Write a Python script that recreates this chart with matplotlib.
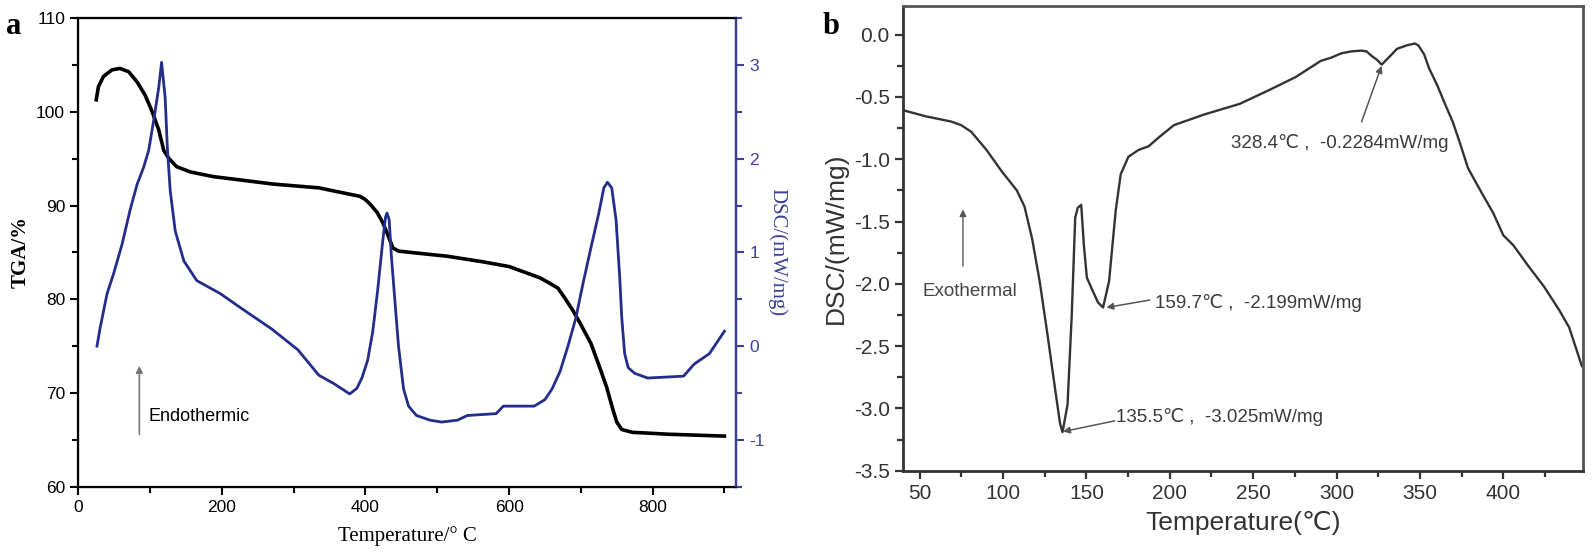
import numpy as np
import matplotlib
matplotlib.use("Agg")
import matplotlib.pyplot as plt
from matplotlib.ticker import MultipleLocator

plt.rcParams["axes.unicode_minus"] = False

# ---- panel a data: TGA (left axis) and DSC (right axis) ----
tga_temp = [25, 28, 35, 47, 58, 70, 82, 93, 102, 112, 119, 126, 137, 156, 188,
            226, 272, 335, 392, 399, 406, 416, 424, 431, 438, 446, 464, 514,
            564, 600, 643, 657, 668, 678, 689, 700, 714, 725, 736, 744, 750,
            757, 772, 786, 822, 900]
tga_val = [101.3, 102.7, 103.8, 104.5, 104.65, 104.3, 103.2, 101.8, 100.2,
           98.1, 95.9, 95.05, 94.16, 93.6, 93.1, 92.74, 92.3, 91.9, 91.0,
           90.7, 90.2, 89.3, 88.2, 86.9, 85.5, 85.15, 85.0, 84.6, 84.0, 83.5,
           82.3, 81.7, 81.2, 80.1, 78.8, 77.3, 75.3, 73.0, 70.6, 68.4, 66.9,
           66.1, 65.8, 65.75, 65.6, 65.4]

dsc_a_temp = [26, 30, 40, 49, 61, 72, 82, 91, 98, 105, 112, 116, 121, 124,
              128, 135, 147, 165, 198, 226, 270, 306, 335, 356, 367, 378, 388,
              395, 403, 410, 417, 424, 428, 430, 433, 436, 441, 446, 453, 460,
              471, 490, 506, 528, 542, 582, 592, 635, 650, 660, 671, 682, 693,
              703, 714, 725, 732, 737, 743, 749, 754, 757, 761, 766, 775, 793,
              843, 858, 879, 900]
dsc_a_val = [0.0, 0.18, 0.56, 0.77, 1.09, 1.45, 1.73, 1.91, 2.09, 2.41, 2.76,
             3.03, 2.65, 2.12, 1.66, 1.23, 0.91, 0.70, 0.56, 0.41, 0.18, -0.04,
             -0.31, -0.40, -0.455, -0.51, -0.45, -0.34, -0.15, 0.15, 0.60,
             1.12, 1.38, 1.42, 1.35, 0.97, 0.48, 0.0, -0.455, -0.64, -0.74,
             -0.79, -0.81, -0.79, -0.74, -0.72, -0.64, -0.64, -0.57, -0.455,
             -0.27, 0.0, 0.30, 0.67, 1.05, 1.42, 1.69, 1.75, 1.69, 1.35, 0.75,
             0.30, -0.08, -0.23, -0.29, -0.34, -0.32, -0.19, -0.08, 0.16]

# ---- panel b data: DSC curve ----
dsc_b_temp = [40, 53.6, 68.8, 74.9, 81, 90.1, 99.2, 108.3, 112.9, 117.5, 122,
              126.6, 131.1, 134.2, 135.7, 138.7, 141.2, 143.3, 144.8, 146.9,
              148.5, 150.3, 153.9, 157, 160, 163.6, 167.6, 170.6, 175.2, 181.3,
              187.3, 193.4, 202.5, 220.8, 242, 260.3, 275.5, 290.6, 296.7,
              302.8, 308.9, 315, 318, 321, 324.1, 327.1, 333.2, 336.2, 342.3,
              346.9, 349, 352.5, 355.5, 360.5, 365, 369.7, 374, 378.8, 383.3,
              387.9, 393.9, 400, 406, 415.2, 424.3, 433.5, 439.5, 447.1]
dsc_b_val = [-0.606, -0.655, -0.697, -0.726, -0.78, -0.925, -1.096, -1.25,
             -1.38, -1.64, -1.98, -2.40, -2.83, -3.12, -3.19, -2.97, -2.26,
             -1.47, -1.39, -1.366, -1.69, -1.95, -2.06, -2.15, -2.19, -1.98,
             -1.41, -1.12, -0.98, -0.925, -0.896, -0.825, -0.726, -0.64,
             -0.555, -0.44, -0.34, -0.21, -0.185, -0.15, -0.134, -0.128,
             -0.134, -0.17, -0.2, -0.24, -0.157, -0.114, -0.085, -0.071,
             -0.085, -0.157, -0.27, -0.41, -0.555, -0.70, -0.87, -1.07, -1.18,
             -1.29, -1.43, -1.61, -1.69, -1.86, -2.02, -2.21, -2.35, -2.66]

peak_labels = ["328.4\u2103 ,  -0.2284mW/mg", "159.7\u2103 ,  -2.199mW/mg",
               "135.5\u2103 ,  -3.025mW/mg"]
peak_xy = [(327, -0.25), (162, -2.19), (136, -3.186)]
peak_tail_xy = [(315, -0.70), (188, -2.13), (167, -3.10)]
peak_text_xy = [(237, -0.87), (191, -2.15), (168, -3.066)]

navy = "#232d8c"
axblue = "#3b4199"
sans = ["Liberation Sans", "DejaVu Sans"]
serif = ["Liberation Serif", "DejaVu Serif"]

fig = plt.figure(figsize=(15.95, 5.53), dpi=100)

# ================= panel a =================
ax = fig.add_axes([0.0491, 0.1199, 0.4123, 0.847])
ax.plot(tga_temp, tga_val, color="black", lw=2.6)
ax.set_xlim(0, 916)
ax.set_ylim(60, 110)
ax.xaxis.set_major_locator(MultipleLocator(200))
ax.xaxis.set_minor_locator(MultipleLocator(100))
ax.yaxis.set_major_locator(MultipleLocator(10))
ax.yaxis.set_minor_locator(MultipleLocator(5))
ax.tick_params(which="both", direction="out", width=1.5, labelsize=12.5)
ax.tick_params(which="major", length=6)
ax.tick_params(which="minor", length=4)
for lbl in ax.get_xticklabels() + ax.get_yticklabels():
    lbl.set_family(sans)
for s in ax.spines.values():
    s.set_linewidth(1.6)
ax.set_xlabel("Temperature/\u00b0 C", family=serif, fontsize=15, labelpad=8)
ax.set_ylabel("TGA/%", family=serif, fontsize=15, fontweight="bold", labelpad=4)

ax2 = ax.twinx()
ax2.plot(dsc_a_temp, dsc_a_val, color=navy, lw=2.0)
ax2.set_ylim(-1.5, 3.5)
ax2.yaxis.set_major_locator(MultipleLocator(1))
ax2.yaxis.set_minor_locator(MultipleLocator(0.5))
ax2.tick_params(which="both", direction="out", width=1.5, colors=axblue,
                labelsize=12.5)
ax2.tick_params(which="major", length=6)
ax2.tick_params(which="minor", length=4)
for lbl in ax2.get_yticklabels():
    lbl.set_family(sans)
ax2.spines["right"].set_color(axblue)
ax2.spines["right"].set_linewidth(1.6)
ax2.set_ylabel("DSC/(mW/mg)", family=serif, fontsize=15, color=axblue,
               rotation=-90, labelpad=16)

# endothermic direction arrow
ax.annotate("", xy=(85, 73.2), xytext=(85, 65.3),
            arrowprops=dict(arrowstyle="-|>", color="#777777", lw=1.2,
                            mutation_scale=10))
ax.text(98, 67.5, "Endothermic", family=sans, fontsize=13, va="center")

fig.text(0.004, 0.952, "a", family=serif, fontsize=22, fontweight="bold",
         va="center")

# ================= panel b =================
bx = fig.add_axes([0.5661, 0.1488, 0.4266, 0.8403])
bx.plot(dsc_b_temp, dsc_b_val, color="#333333", lw=1.7)
bx.set_xlim(40, 448)
bx.set_ylim(-3.5, 0.23)
bx.xaxis.set_major_locator(MultipleLocator(50))
bx.xaxis.set_minor_locator(MultipleLocator(25))
bx.yaxis.set_major_locator(MultipleLocator(0.5))
bx.yaxis.set_minor_locator(MultipleLocator(0.25))
bx.yaxis.set_major_formatter(plt.FormatStrFormatter("%.1f"))
bx.tick_params(which="both", direction="out", width=1.6, colors="#333333",
               labelsize=15, top=False, right=False)
bx.tick_params(which="major", length=6)
bx.tick_params(which="minor", length=4)
for lbl in bx.get_xticklabels() + bx.get_yticklabels():
    lbl.set_family(sans)
for name in ("left", "bottom"):
    bx.spines[name].set_linewidth(2.0)
    bx.spines[name].set_color("#333333")
for name in ("top", "right"):
    bx.spines[name].set_linewidth(2.0)
    bx.spines[name].set_color("#555555")
bx.set_xlabel("Temperature(\u2103)", family=sans, fontsize=19, color="#333333",
              labelpad=6)
bx.set_ylabel("DSC/(mW/mg)", family=sans, fontsize=19, color="#333333",
              labelpad=4)

for lbl, xy, tail, txy in zip(peak_labels, peak_xy, peak_tail_xy, peak_text_xy):
    bx.annotate("", xy=xy, xytext=tail,
                arrowprops=dict(arrowstyle="-|>", color="#555555", lw=1.1,
                                mutation_scale=10, shrinkA=0, shrinkB=0))
    bx.text(txy[0], txy[1], lbl, family=sans, fontsize=13.5, color="#3a3a3a",
            va="center")

bx.annotate("", xy=(76, -1.38), xytext=(76, -1.88),
            arrowprops=dict(arrowstyle="-|>", color="#555555", lw=1.0,
                            mutation_scale=10))
bx.text(80, -2.06, "Exothermal", family=sans, fontsize=13.5, color="#444444",
        ha="center", va="center")

fig.text(0.516, 0.952, "b", family=serif, fontsize=22, fontweight="bold",
         va="center")

fig.savefig("out.png", dpi=100)
